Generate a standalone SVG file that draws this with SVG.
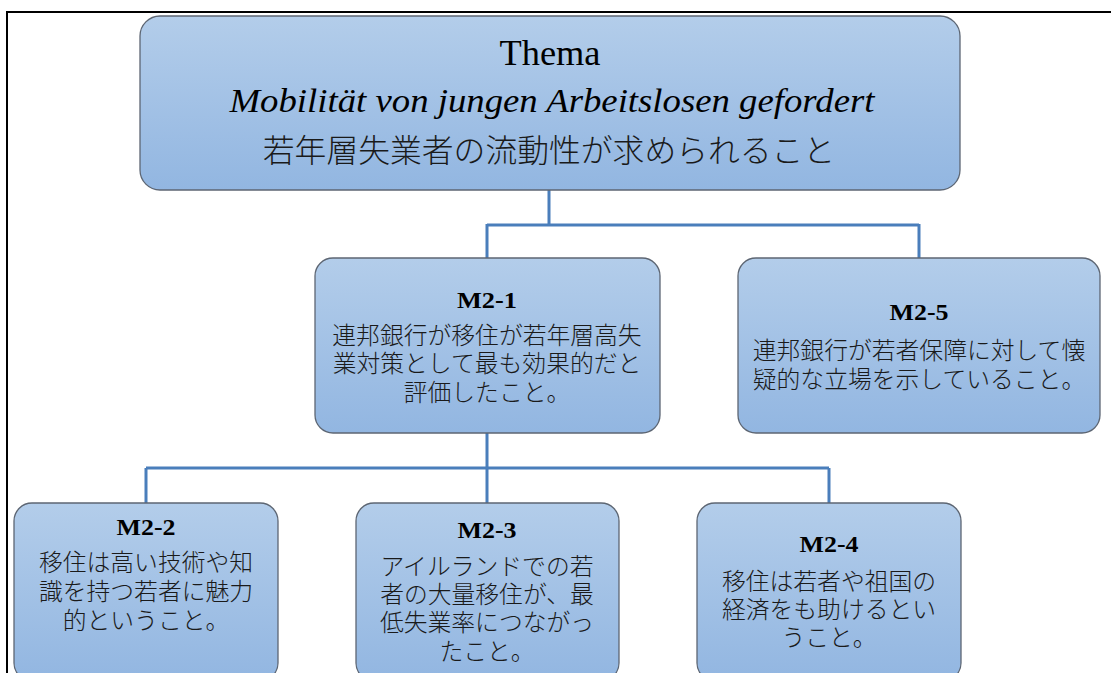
<svg xmlns="http://www.w3.org/2000/svg" width="1111" height="673" viewBox="0 0 1111 673">
<defs>
<linearGradient id="g" x1="0" y1="0" x2="0" y2="1">
<stop offset="0" stop-color="#b3cdea"/>
<stop offset="1" stop-color="#92b6e1"/>
</linearGradient>
<style>
.box{fill:url(#g);stroke:#5d6673;stroke-width:1.3}
.con{fill:none;stroke:#4a7ebb;stroke-width:3}
.ttl{font-family:"Liberation Serif",serif;font-weight:bold;font-size:23px;fill:#000;text-anchor:middle}
.jp{font-family:"Noto Sans CJK JP","Liberation Sans",sans-serif;font-size:23.8px;fill:#1a1a1a;text-anchor:middle;font-weight:300}
</style>
</defs>
<rect width="1111" height="673" fill="#fff"/>
<path d="M7,673 V12 H1111" fill="none" stroke="#000" stroke-width="2"/>
<g id="connectors">
<path class="con" d="M549,190 V225 M487,225 H919 M487,224 V258 M919,224 V258"/>
<path class="con" d="M487,433 V503 M146,468 H829 M146,468 V503 M829,468 V503"/>
</g>
<g id="thema">
<rect class="box" x="140" y="16" width="820" height="174" rx="20"/>
<text x="550" y="65" font-family="Liberation Serif,serif" font-size="35" text-anchor="middle" textLength="101" lengthAdjust="spacingAndGlyphs" fill="#000">Thema</text>
<text x="552" y="112" font-family="Liberation Serif,serif" font-style="italic" font-size="33" text-anchor="middle" textLength="645" lengthAdjust="spacingAndGlyphs" fill="#000">Mobilität von jungen Arbeitslosen gefordert</text>
<text x="549" y="162" class="jp" style="font-size:31.8px">若年層失業者の流動性が求められること</text>
</g>
<g id="m2-1">
<rect class="box" x="315" y="258" width="345" height="175" rx="18"/>
<text class="ttl" x="487" y="308" textLength="60" lengthAdjust="spacingAndGlyphs">M2-1</text>
<text class="jp" x="487" y="344">連邦銀行が移住が若年層高失</text>
<text class="jp" x="487" y="372">業対策として最も効果的だと</text>
<text class="jp" x="487" y="401">評価したこと。</text>
</g>
<g id="m2-5">
<rect class="box" x="738" y="258" width="362" height="175" rx="18"/>
<text class="ttl" x="919" y="320" textLength="59" lengthAdjust="spacingAndGlyphs">M2-5</text>
<text class="jp" x="919" y="359">連邦銀行が若者保障に対して懐</text>
<text class="jp" x="919" y="388">疑的な立場を示していること。</text>
</g>
<g id="m2-2">
<rect class="box" x="14" y="503" width="264" height="178" rx="18"/>
<text class="ttl" x="146" y="535" textLength="59" lengthAdjust="spacingAndGlyphs">M2-2</text>
<text class="jp" x="146" y="571">移住は高い技術や知</text>
<text class="jp" x="146" y="600">識を持つ若者に魅力</text>
<text class="jp" x="146" y="629">的ということ。</text>
</g>
<g id="m2-3">
<rect class="box" x="356" y="503" width="263" height="178" rx="18"/>
<text class="ttl" x="487" y="538" textLength="59" lengthAdjust="spacingAndGlyphs">M2-3</text>
<text class="jp" x="487" y="575">アイルランドでの若</text>
<text class="jp" x="487" y="603">者の大量移住が、最</text>
<text class="jp" x="487" y="631">低失業率につながっ</text>
<text class="jp" x="487" y="660">たこと。</text>
</g>
<g id="m2-4">
<rect class="box" x="697" y="503" width="264" height="178" rx="18"/>
<text class="ttl" x="829" y="552" textLength="59" lengthAdjust="spacingAndGlyphs">M2-4</text>
<text class="jp" x="829" y="590">移住は若者や祖国の</text>
<text class="jp" x="829" y="618">経済をも助けるとい</text>
<text class="jp" x="829" y="646">うこと。</text>
</g>
</svg>
